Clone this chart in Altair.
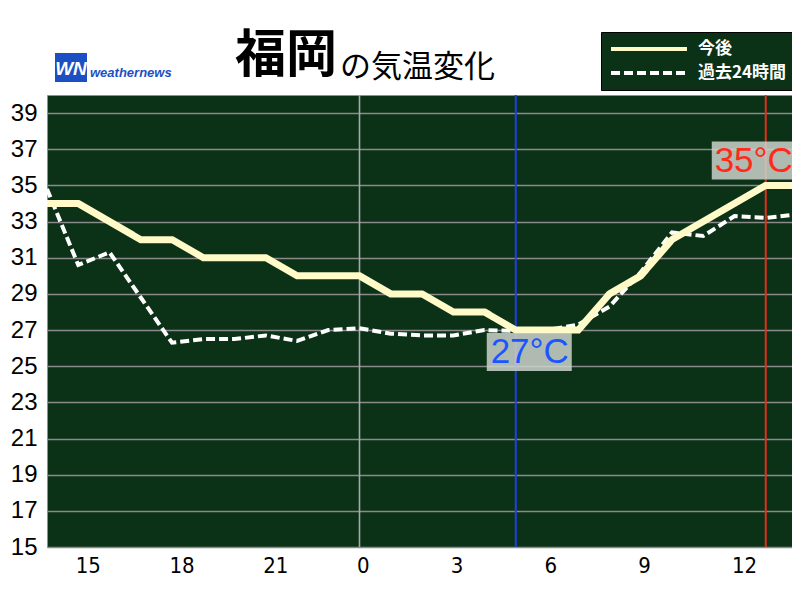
import altair as alt
import pandas as pd

# ---- data (hours relative to midnight: -10 = 14時 of previous day) ----
hours = [-10, -9, -8, -7, -6, -5, -4, -3, -2, -1, 0, 1, 2, 3, 4, 5, 6, 7, 8, 9, 10, 11, 12, 13, 14]
hour_ticks = [-9, -6, -3, 0, 3, 6, 9, 12]
temp_ticks = [15, 17, 19, 21, 23, 25, 27, 29, 31, 33, 35, 37, 39]
forecast = [34, 34, 33, 32, 32, 31, 31, 31, 30, 30, 30, 29, 29, 28, 28, 27, 27, 27, 29, 30, 32, 33, 34, 35, 35]
past = [34.8, 30.6, 31.3, 28.8, 26.3, 26.5, 26.5, 26.7, 26.4, 27.0, 27.1, 26.8, 26.7, 26.7, 27.0, 26.95,
        27.0, 27.3, 28.3, 30.2, 32.4, 32.2, 33.3, 33.2, 33.4]
series_names = ["今後", "過去24時間"]
day_boundary = [0]

n = len(hours)
df = pd.DataFrame({
    "hour": hours * 2,
    "temp": forecast + past,
    "series": [series_names[0]] * n + [series_names[1]] * n,
})
fc = df[df.series == series_names[0]]
min_row = fc.loc[[fc.temp.idxmin()]].copy()
max_row = fc.loc[[fc.temp.idxmax()]].copy()
min_row["label"] = min_row.temp.map(lambda v: f"{int(v)}°C")
max_row["label"] = max_row.temp.map(lambda v: f"{int(v)}°C")
boundary_df = pd.DataFrame({"hour": day_boundary})
one = pd.DataFrame({"k": [0]})

BG = "#0b3217"
PLOT_W = 745                       # keeps the page inside the 800px window
X_MAX = hours[0] + PLOT_W / 31.25  # 31.25 px per hour, as in the reference

X = alt.X("hour:Q",
          scale=alt.Scale(domain=[hours[0], X_MAX], nice=False, zero=False),
          axis=alt.Axis(values=hour_ticks, labelExpr="(datum.value + 24) % 24", grid=False,
                        ticks=False, domain=False, title=None,
                        labelFont="DejaVu Sans Condensed, Liberation Sans",
                        labelFontSize=22, labelAlign="left", labelOffset=-3, labelPadding=8,
                        labelColor="black"))
Y = alt.Y("temp:Q",
          scale=alt.Scale(domain=[15, 40], nice=False, zero=False),
          axis=alt.Axis(values=temp_ticks, grid=True, gridColor="#8a8a8a", gridWidth=1.6,
                        ticks=False, domain=False, title=None, labelFont="Liberation Sans",
                        labelFontSize=24, labelPadding=10, labelColor="black"))

leg = alt.Legend(title=None, orient="none", legendX=554, legendY=-63, direction="vertical",
                 fillColor=BG, strokeColor="#000000", padding=8, symbolType="stroke",
                 symbolSize=5776, symbolStrokeWidth=4, labelColor="white",
                 labelFont="Noto Sans CJK JP", labelFontSize=17, labelFontWeight="bold",
                 labelOffset=9, rowPadding=6, clipHeight=18)
color = alt.Color("series:N", scale=alt.Scale(domain=series_names, range=["#fffac8", "#ffffff"]),
                  legend=leg, sort=series_names)
dash = alt.StrokeDash("series:N", scale=alt.Scale(domain=series_names, range=[[1, 0], [9, 4]]),
                      legend=leg, sort=series_names)

boundary = alt.Chart(boundary_df).mark_rule(color="#a8a8a8", strokeWidth=1.6).encode(x=X)
min_rule = alt.Chart(min_row).mark_rule(color="#1f3fe8", strokeWidth=2).encode(x=X)
max_rule = alt.Chart(max_row).mark_rule(color="#e0301c", strokeWidth=2).encode(x=X)

past_line = alt.Chart(df).transform_filter(alt.datum.series == series_names[1]).mark_line(
    strokeWidth=4, clip=True).encode(x=X, y=Y, color=color, strokeDash=dash)
fc_line = alt.Chart(df).transform_filter(alt.datum.series == series_names[0]).mark_line(
    strokeWidth=7, strokeJoin="miter", clip=True).encode(x=X, y=Y, color=color, strokeDash=dash)

min_box = alt.Chart(min_row).mark_rect(color="#ccd4cc", opacity=0.85, xOffset=-29, x2Offset=56,
                                       yOffset=3, y2Offset=41).encode(x=X, x2="hour:Q", y=Y, y2="temp:Q")
max_box = alt.Chart(max_row).mark_rect(color="#ccd4cc", opacity=0.85, xOffset=-54, x2Offset=31,
                                       yOffset=-44, y2Offset=-6).encode(x=X, x2="hour:Q", y=Y, y2="temp:Q")
min_text = alt.Chart(min_row).mark_text(font="Liberation Sans", fontSize=35, color="#1a55ff",
                                        align="center", baseline="middle", dx=14, dy=22).encode(
    x=X, y=Y, text="label:N")
max_text = alt.Chart(max_row).mark_text(font="Liberation Sans", fontSize=35, color="#ff2a1a",
                                        align="center", baseline="middle", dx=-12, dy=-24).encode(
    x=X, y=Y, text="label:N")

title1 = alt.Chart(one).mark_text(text="福岡", font="Noto Sans CJK JP", fontSize=51, fontWeight="bold",
                                  align="left", baseline="middle", color="black").encode(
    x=alt.value(188), y=alt.value(-38))
title2 = alt.Chart(one).mark_text(text="の気温変化", font="Noto Sans CJK JP", fontSize=31,
                                  align="left", baseline="middle", color="black").encode(
    x=alt.value(293), y=alt.value(-27))
logo_box = alt.Chart(one).mark_rect(color="#1d4fc4").encode(
    x=alt.value(8), x2=alt.value(40), y=alt.value(-42), y2=alt.value(-13))
logo_wn = alt.Chart(one).mark_text(text="WN", font="Liberation Sans", fontSize=19, fontWeight="bold",
                                   fontStyle="italic", color="white", align="center",
                                   baseline="middle").encode(x=alt.value(24), y=alt.value(-26))
logo_name = alt.Chart(one).mark_text(text="weathernews", font="Liberation Sans", fontSize=13,
                                     fontWeight="bold", fontStyle="italic", color="#1d4fc4",
                                     align="left", baseline="middle").encode(x=alt.value(43), y=alt.value(-22))

chart = alt.layer(
    boundary, min_rule, max_rule, past_line, fc_line, min_box, max_box, min_text, max_text,
    title1, title2, logo_box, logo_wn, logo_name
).properties(
    width=PLOT_W, height=452,
    autosize=alt.AutoSizeParams(type="none"),
    padding={"left": 39, "top": 87, "right": 0, "bottom": 36},
    background="white",
).configure_view(fill=BG, stroke="#8a958a", strokeWidth=1)

chart.save("out.html", embed_options={"renderer": "svg", "actions": False})
